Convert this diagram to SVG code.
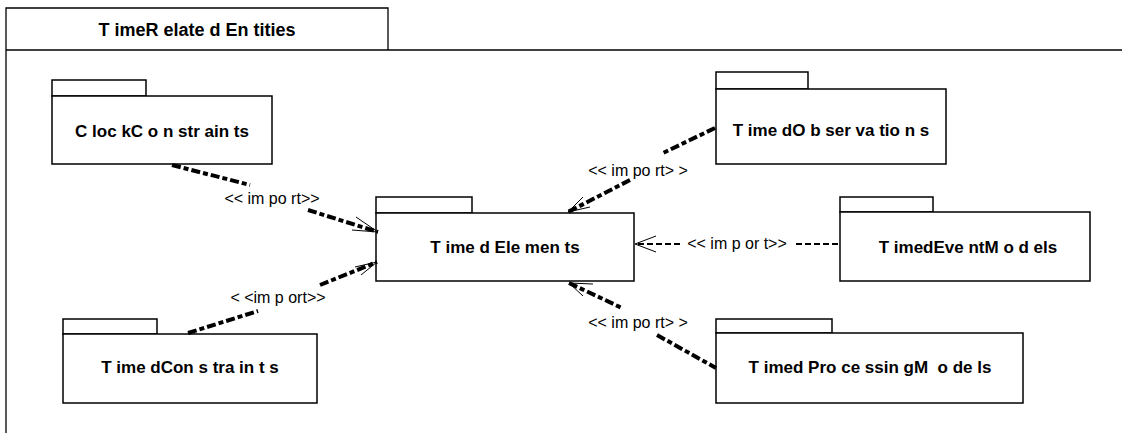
<svg xmlns="http://www.w3.org/2000/svg" width="1122" height="433" viewBox="0 0 1122 433">
<defs>
<style>
.frame{fill:none;stroke:#000;stroke-width:1.3}
.box{fill:#fff;stroke:#000;stroke-width:1.5}
.nt{font-family:"Liberation Sans",Arial,sans-serif;font-size:17px;font-weight:bold;fill:#000;text-anchor:middle;white-space:pre}
.title{font-size:18px}
.lbl{font-family:"Liberation Sans",Arial,sans-serif;font-size:16px;fill:#000;text-anchor:middle;white-space:pre}
.dep{fill:none;stroke:#000;stroke-width:4;stroke-dasharray:9 3 5 3;stroke-linecap:butt}
.dep2{fill:none;stroke:#000;stroke-width:2;stroke-dasharray:6 3}
.ah{fill:none;stroke:#000;stroke-width:1}
</style>
</defs>
<g id="frame">
<polyline class="frame" points="6,433 6,8 388,8 388,50"/>
<line class="frame" x1="6" y1="50" x2="1122" y2="50"/>
<text class="nt title" x="197" y="36">T imeR elate d En tities</text>
</g>
<g id="ClockConstraints">
<rect class="box" x="52" y="80" width="94" height="16"/>
<rect class="box" x="52" y="96" width="220" height="68"/>
<text class="nt" x="162" y="137">C loc kC o n str ain ts</text>
</g>
<g id="TimedElements">
<rect class="box" x="376" y="197" width="96" height="16"/>
<rect class="box" x="376" y="213" width="258" height="68"/>
<text class="nt" x="505" y="253">T ime d Ele men ts</text>
</g>
<g id="TimedObservations">
<rect class="box" x="716" y="72" width="92" height="17"/>
<rect class="box" x="716" y="89" width="230" height="75"/>
<text class="nt" x="831" y="136">T ime dO b ser va tio n s</text>
</g>
<g id="TimedEventModels">
<rect class="box" x="840" y="197" width="93" height="15"/>
<rect class="box" x="840" y="212" width="250" height="69"/>
<text class="nt" x="968" y="253">T imedEve ntM o d els</text>
</g>
<g id="TimedProcessingModels">
<rect class="box" x="716" y="319" width="116" height="14"/>
<rect class="box" x="716" y="333" width="307" height="70"/>
<text class="nt" x="870" y="373">T imed Pro ce ssin gM  o de ls</text>
</g>
<g id="TimedConstraints">
<rect class="box" x="63" y="319" width="94" height="15"/>
<rect class="box" x="63" y="334" width="254" height="69"/>
<text class="nt" x="190" y="373">T ime dCon s tra in t s</text>
</g>
<g id="connectors">
<polyline class="dep" points="172,165 250,185"/>
<polyline class="dep" points="308,210 378,232"/>
<polyline class="ah" points="356,217 378,232 352,230"/>
<text class="lbl" x="272" y="204">&lt;&lt; im po rt&gt;&gt;</text>

<polyline class="dep" points="188,333 258,311"/>
<polyline class="dep" points="320,285 377,262"/>
<polyline class="ah" points="361,275 377,262 355,267"/>
<text class="lbl" x="278" y="303">&lt; &lt;im p ort&gt;&gt;</text>

<polyline class="dep" points="715,128 663,153"/>
<polyline class="dep" points="630,180 568,212"/>
<polyline class="ah" points="583,197 568,212 590,207"/>
<text class="lbl" x="638" y="176">&lt;&lt; im po rt&gt; &gt;</text>

<polyline class="dep2" points="838,244 796,244"/>
<polyline class="dep2" points="680,244 636,244"/>
<polyline class="ah" points="656,236 635,244 656,252"/>
<text class="lbl" x="737" y="249">&lt;&lt; im p or t&gt;&gt;</text>

<polyline class="dep" points="569,283 622,308"/>
<polyline class="dep" points="657,335 716,368"/>
<polyline class="ah" points="593,284 569,283 583,296"/>
<text class="lbl" x="638" y="328">&lt;&lt; im po rt&gt; &gt;</text>
</g>
</svg>
